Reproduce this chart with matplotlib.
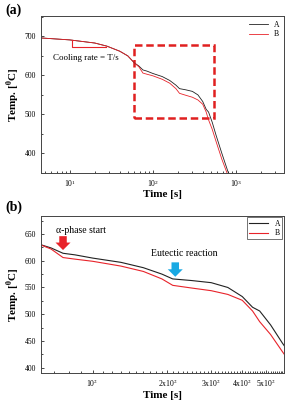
import numpy as np
import matplotlib
matplotlib.use('Agg')
import matplotlib.pyplot as plt
from matplotlib.patches import Rectangle
from matplotlib.ticker import AutoMinorLocator, FixedLocator, NullFormatter

plt.rcParams['font.family'] = ['Liberation Serif', 'DejaVu Serif']
plt.rcParams['mathtext.fontset'] = 'stix'

# cooling curves
tiempo = [4.5, 10, 20, 28, 40, 50, 60, 68, 76, 85, 100, 130, 160, 190, 210, 250, 300, 350, 400, 440, 470, 520, 580, 680, 800, 900]
temp_a = [696, 691, 683, 675, 662, 650, 632, 624, 614, 611, 605, 597, 587, 575, 566, 563, 559, 550, 533, 513, 506, 480, 446, 400, 355, 330]
temp_b = [696, 691, 683, 675, 662, 650, 632, 622, 606, 603, 599, 590, 580, 566, 554, 549, 544, 537, 526, 506, 486, 462, 430, 385, 345, 320]
etiquetas = ['A', 'B']
colores = ['#222222', '#e8232a']

# zoom box and cooling-rate triangle (data coords)
caja_x = [59, 543]
caja_y = [490, 678]
tri_x = [10.5, 10.5, 27]
tri_y = [690, 672, 672]

ticks_b = [100, 200, 300, 400, 500]
labels_b = ['10$^2$', '2x10$^2$', '3x10$^2$', '4x10$^2$', '5x10$^2$']

fig = plt.figure(figsize=(2.85, 4.03), dpi=100)

def estilo(ax):
    ax.tick_params(which='both', direction='in', labelsize=5.5, width=0.5)
    ax.tick_params(which='major', length=2.5)
    ax.tick_params(which='minor', length=1.5)
    for s in ax.spines.values():
        s.set_linewidth(0.7)
        s.set_color('#444444')
    ax.set_xlabel('Time [s]', fontsize=8, fontweight='bold', labelpad=1)
    ax.set_ylabel('Temp. [$^{\\mathbf{0}}$C]', fontsize=8, fontweight='bold', labelpad=2)

# ---------------- (a) ----------------
ax1 = fig.add_axes([0.144, 0.571, 0.852, 0.389])
ax1.plot(tiempo, temp_a, color=colores[0], lw=0.6, label=etiquetas[0])
ax1.plot(tiempo, temp_b, color=colores[1], lw=0.6, label=etiquetas[1])
ax1.plot(tri_x, tri_y, color=colores[1], lw=0.8)
ax1.add_patch(Rectangle((caja_x[0], caja_y[0]), caja_x[1] - caja_x[0], caja_y[1] - caja_y[0],
                        fill=False, edgecolor='#e02020', lw=1.8, ls=(0, (3, 1.5))))
ax1.text(6.2, 644, 'Cooling rate = T/s', fontsize=6.5, va='center', ha='left')
ax1.set_xscale('log')
ax1.set_xlim(4.5, 3800)
ax1.set_ylim(350, 752)
ax1.set_yticks([400, 500, 600, 700])
ax1.yaxis.set_minor_locator(AutoMinorLocator(2))
estilo(ax1)
ax1.legend(loc='upper right', fontsize=5.5, frameon=False, handlelength=2.5,
           borderaxespad=0.2, labelspacing=0.2)
fig.text(0.02, 0.975, '(a)', fontsize=10, fontweight='bold', va='center')

# ---------------- (b) ----------------
ax2 = fig.add_axes([0.144, 0.0744, 0.852, 0.39])
ax2.plot(tiempo, temp_a, color=colores[0], lw=0.8, label=etiquetas[0])
ax2.plot(tiempo, temp_b, color=colores[1], lw=0.8, label=etiquetas[1])
ax2.set_xscale('log')
ax2.set_xlim(62, 588)
ax2.set_ylim(390, 684)
ax2.set_yticks([400, 450, 500, 550, 600, 650])
ax2.yaxis.set_minor_locator(AutoMinorLocator(2))
ax2.xaxis.set_major_locator(FixedLocator(ticks_b))
ax2.set_xticklabels(labels_b)
ax2.xaxis.set_minor_locator(FixedLocator(list(range(60, 600, 10))))
ax2.xaxis.set_minor_formatter(NullFormatter())
estilo(ax2)
leg = ax2.legend(loc='upper right', fontsize=5.5, frameon=True, fancybox=False,
                 handlelength=2.5, borderaxespad=0.2, labelspacing=0.2, borderpad=0.3)
leg.get_frame().set_edgecolor('#333333')
leg.get_frame().set_linewidth(0.6)

flecha = dict(arrowstyle='simple,head_width=0.9,head_length=0.45,tail_width=0.45',
              lw=0, shrinkA=0, shrinkB=0, mutation_scale=12)
ax2.text(90, 657, '\u03b1-phase start', fontsize=7, ha='center', va='center')
ax2.annotate('', xy=(76, 620), xytext=(76, 646), arrowprops=dict(flecha, color='#e8232a'))
ax2.text(233, 614, 'Eutectic reaction', fontsize=7, ha='center', va='center')
ax2.annotate('', xy=(215, 570), xytext=(215, 597), arrowprops=dict(flecha, color='#19a9e3'))
fig.text(0.02, 0.485, '(b)', fontsize=10, fontweight='bold', va='center')

fig.savefig('out.png', dpi=100)
